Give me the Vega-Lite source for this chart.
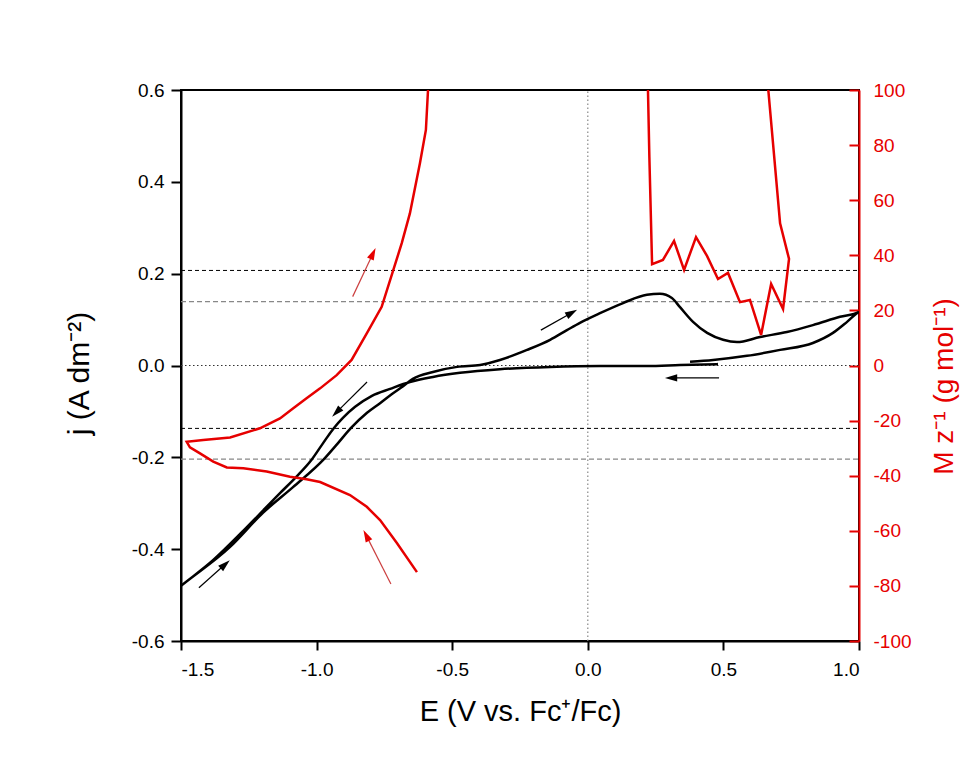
{
  "$schema": "https://vega.github.io/schema/vega-lite/v6.json",
  "autosize": {"type": "none"},
  "width": 678,
  "height": 551,
  "padding": {"left": 181, "top": 90, "right": 121, "bottom": 121},
  "background": "white",
  "config": {
    "view": {"stroke": "black", "strokeWidth": 2},
    "font": "Liberation Sans",
    "locale": {"number": {"decimal": ".", "thousands": ",", "grouping": [3], "currency": ["$", ""], "minus": "-"}},
    "axis": {"grid": false, "labelFont": "Liberation Sans", "titleFont": "Liberation Sans", "titleFontWeight": "normal", "labelFontSize": 19, "titleFontSize": 28}
  },
  "datasets": {
    "cv": [
      {"i": 1, "E": 0.480, "j": 0.003}, {"i": 2, "E": 0.340, "j": 0.001}, {"i": 3, "E": 0.218, "j": -0.001},
      {"i": 4, "E": 0.045, "j": -0.001}, {"i": 5, "E": -0.139, "j": -0.003}, {"i": 6, "E": -0.324, "j": -0.008},
      {"i": 7, "E": -0.471, "j": -0.016}, {"i": 8, "E": -0.571, "j": -0.025}, {"i": 9, "E": -0.656, "j": -0.036},
      {"i": 10, "E": -0.729, "j": -0.051}, {"i": 11, "E": -0.796, "j": -0.066}, {"i": 12, "E": -0.858, "j": -0.090},
      {"i": 13, "E": -0.903, "j": -0.114}, {"i": 14, "E": -0.936, "j": -0.136}, {"i": 15, "E": -0.976, "j": -0.169},
      {"i": 16, "E": -1.017, "j": -0.204}, {"i": 17, "E": -1.076, "j": -0.243}, {"i": 18, "E": -1.135, "j": -0.278},
      {"i": 19, "E": -1.257, "j": -0.352}, {"i": 20, "E": -1.382, "j": -0.424}, {"i": 21, "E": -1.500, "j": -0.480},
      {"i": 22, "E": -1.319, "j": -0.395}, {"i": 23, "E": -1.198, "j": -0.321}, {"i": 24, "E": -1.087, "j": -0.265},
      {"i": 25, "E": -0.973, "j": -0.204}, {"i": 26, "E": -0.921, "j": -0.169}, {"i": 27, "E": -0.873, "j": -0.136},
      {"i": 28, "E": -0.814, "j": -0.103}, {"i": 29, "E": -0.766, "j": -0.082}, {"i": 30, "E": -0.722, "j": -0.062},
      {"i": 31, "E": -0.681, "j": -0.045}, {"i": 32, "E": -0.645, "j": -0.029}, {"i": 33, "E": -0.571, "j": -0.014},
      {"i": 34, "E": -0.482, "j": -0.003}, {"i": 35, "E": -0.397, "j": 0.001}, {"i": 36, "E": -0.324, "j": 0.012},
      {"i": 37, "E": -0.224, "j": 0.034}, {"i": 38, "E": -0.139, "j": 0.056}, {"i": 39, "E": -0.077, "j": 0.077},
      {"i": 40, "E": -0.029, "j": 0.093}, {"i": 41, "E": 0.045, "j": 0.114}, {"i": 42, "E": 0.130, "j": 0.136},
      {"i": 43, "E": 0.218, "j": 0.154}, {"i": 44, "E": 0.266, "j": 0.156}, {"i": 45, "E": 0.310, "j": 0.147},
      {"i": 46, "E": 0.340, "j": 0.127}, {"i": 47, "E": 0.388, "j": 0.095}, {"i": 48, "E": 0.440, "j": 0.071},
      {"i": 49, "E": 0.499, "j": 0.056}, {"i": 50, "E": 0.550, "j": 0.051}, {"i": 51, "E": 0.635, "j": 0.062},
      {"i": 52, "E": 0.734, "j": 0.073}, {"i": 53, "E": 0.830, "j": 0.088}, {"i": 54, "E": 0.930, "j": 0.106},
      {"i": 55, "E": 1.000, "j": 0.117}, {"i": 56, "E": 0.956, "j": 0.095}, {"i": 57, "E": 0.904, "j": 0.071},
      {"i": 58, "E": 0.830, "j": 0.049}, {"i": 59, "E": 0.709, "j": 0.034}, {"i": 60, "E": 0.587, "j": 0.021},
      {"i": 61, "E": 0.462, "j": 0.012}, {"i": 62, "E": 0.377, "j": 0.008}
    ],
    "mass": [
      {"seg": "A", "i": 1, "E": -0.630, "M": -75.0}, {"seg": "A", "i": 2, "E": -0.704, "M": -64.4},
      {"seg": "A", "i": 3, "E": -0.766, "M": -56.1}, {"seg": "A", "i": 4, "E": -0.815, "M": -51.3},
      {"seg": "A", "i": 5, "E": -0.877, "M": -47.0}, {"seg": "A", "i": 6, "E": -0.987, "M": -42.3},
      {"seg": "A", "i": 7, "E": -1.037, "M": -41.3}, {"seg": "A", "i": 8, "E": -1.098, "M": -40.4},
      {"seg": "A", "i": 9, "E": -1.184, "M": -38.5}, {"seg": "A", "i": 10, "E": -1.270, "M": -37.3},
      {"seg": "A", "i": 11, "E": -1.331, "M": -37.0}, {"seg": "A", "i": 12, "E": -1.381, "M": -34.9},
      {"seg": "A", "i": 13, "E": -1.430, "M": -31.9}, {"seg": "A", "i": 14, "E": -1.467, "M": -29.7},
      {"seg": "A", "i": 15, "E": -1.479, "M": -27.7}, {"seg": "A", "i": 16, "E": -1.418, "M": -27.0},
      {"seg": "A", "i": 17, "E": -1.319, "M": -26.1}, {"seg": "A", "i": 18, "E": -1.209, "M": -22.8},
      {"seg": "A", "i": 19, "E": -1.135, "M": -19.2}, {"seg": "A", "i": 20, "E": -1.086, "M": -15.5},
      {"seg": "A", "i": 21, "E": -1.037, "M": -11.9}, {"seg": "A", "i": 22, "E": -0.987, "M": -8.3},
      {"seg": "A", "i": 23, "E": -0.926, "M": -3.5}, {"seg": "A", "i": 24, "E": -0.871, "M": 2.0},
      {"seg": "A", "i": 25, "E": -0.815, "M": 11.7}, {"seg": "A", "i": 26, "E": -0.760, "M": 21.3},
      {"seg": "A", "i": 27, "E": -0.717, "M": 34.7}, {"seg": "A", "i": 28, "E": -0.686, "M": 44.4},
      {"seg": "A", "i": 29, "E": -0.656, "M": 55.2}, {"seg": "A", "i": 30, "E": -0.619, "M": 73.4},
      {"seg": "A", "i": 31, "E": -0.597, "M": 85.5}, {"seg": "A", "i": 32, "E": -0.587, "M": 104.0},
      {"seg": "B", "i": 1, "E": 0.221, "M": 104.0}, {"seg": "B", "i": 2, "E": 0.227, "M": 75.8},
      {"seg": "B", "i": 3, "E": 0.237, "M": 36.8}, {"seg": "B", "i": 4, "E": 0.277, "M": 38.3},
      {"seg": "B", "i": 5, "E": 0.318, "M": 45.2}, {"seg": "B", "i": 6, "E": 0.355, "M": 34.7},
      {"seg": "B", "i": 7, "E": 0.399, "M": 46.6}, {"seg": "B", "i": 8, "E": 0.440, "M": 39.7},
      {"seg": "B", "i": 9, "E": 0.480, "M": 31.4}, {"seg": "B", "i": 10, "E": 0.517, "M": 33.6},
      {"seg": "B", "i": 11, "E": 0.561, "M": 23.0}, {"seg": "B", "i": 12, "E": 0.598, "M": 23.8},
      {"seg": "B", "i": 13, "E": 0.639, "M": 11.1}, {"seg": "B", "i": 14, "E": 0.676, "M": 29.6},
      {"seg": "B", "i": 15, "E": 0.720, "M": 20.5}, {"seg": "B", "i": 16, "E": 0.742, "M": 38.7},
      {"seg": "B", "i": 17, "E": 0.709, "M": 51.6}, {"seg": "B", "i": 18, "E": 0.662, "M": 104.0}
    ],
    "shafts": [
      {"c": "red", "E": -0.867, "j": 0.150, "E2": -0.792, "j2": 0.244},
      {"c": "red", "E": -0.726, "j": -0.476, "E2": -0.817, "j2": -0.370},
      {"c": "black", "E": -1.434, "j": -0.484, "E2": -1.337, "j2": -0.433},
      {"c": "black", "E": -0.814, "j": -0.036, "E2": -0.927, "j2": -0.102},
      {"c": "black", "E": -0.173, "j": 0.077, "E2": -0.059, "j2": 0.115},
      {"c": "black", "E": 0.484, "j": -0.027, "E2": 0.307, "j2": -0.027}
    ],
    "heads": [
      {"c": "red", "E": -0.792, "j": 0.244, "angle": 25},
      {"c": "red", "E": -0.817, "j": -0.370, "angle": -27},
      {"c": "black", "E": -1.337, "j": -0.433, "angle": 48},
      {"c": "black", "E": -0.927, "j": -0.102, "angle": 225},
      {"c": "black", "E": -0.059, "j": 0.115, "angle": 60},
      {"c": "black", "E": 0.307, "j": -0.027, "angle": 270}
    ]
  },
  "encoding": {
    "x": {"field": "E", "type": "quantitative", "scale": {"domain": [-1.5, 1.0], "nice": false, "zero": false},
      "axis": {"orient": "bottom", "values": [-1.5, -1.0, -0.5, 0.0, 0.5, 1.0], "format": ".1f",
        "domainColor": "#000000", "domainWidth": 2, "tickColor": "#000000", "tickWidth": 2, "tickSize": 9,
        "labelColor": "#000000", "labelPadding": 10, "title": "E (V vs. Fc⁺/Fc)", "titleColor": "#000000",
        "titleFontSize": 29, "titlePadding": 18}}
  },
  "layer": [
    {
      "encoding": {
        "y": {"field": "j", "type": "quantitative", "scale": {"domain": [-0.6, 0.6], "nice": false, "zero": false},
          "axis": {"orient": "left", "values": [-0.6, -0.4, -0.2, 0.0, 0.2, 0.4, 0.6], "format": ".1f",
            "domainColor": "#000000", "domainWidth": 2, "tickColor": "#000000", "tickWidth": 2, "tickSize": 10,
            "labelColor": "#000000", "labelPadding": 7, "title": "j (A dm⁻²)", "titleColor": "#000000",
            "titleFontSize": 30, "titlePadding": 37, "titleY": 283}}
      },
      "layer": [
        {
          "data": {"values": [{"E": -1.5, "E2": 1.0, "j": 0}]},
          "mark": {"type": "rule", "color": "#333333", "strokeWidth": 1, "strokeDash": [1.5, 2.5]},
          "encoding": {"x2": {"field": "E2"}}
        },
        {
          "data": {"values": [{"E": 0, "j": -0.6, "j2": 0.6}]},
          "mark": {"type": "rule", "color": "#888888", "strokeWidth": 1.2, "strokeDash": [1.5, 2.5]},
          "encoding": {"y2": {"field": "j2"}}
        },
        {
          "data": {"values": [{"E": -1.5, "E2": 1.0, "j": 0.207}, {"E": -1.5, "E2": 1.0, "j": -0.137}]},
          "mark": {"type": "rule", "color": "#000000", "strokeWidth": 1, "strokeDash": [4, 3]},
          "encoding": {"x2": {"field": "E2"}}
        },
        {
          "data": {"values": [{"E": -1.5, "E2": 1.0, "j": 0.139}, {"E": -1.5, "E2": 1.0, "j": -0.204}]},
          "mark": {"type": "rule", "color": "#888888", "strokeWidth": 1.2, "strokeDash": [5, 3]},
          "encoding": {"x2": {"field": "E2"}}
        },
        {
          "data": {"name": "cv"},
          "mark": {"type": "line", "color": "#000000", "strokeWidth": 2.5, "clip": true, "interpolate": "monotone"},
          "encoding": {"order": {"field": "i", "type": "quantitative"}}
        },
        {
          "data": {"name": "shafts"},
          "mark": {"type": "rule", "strokeWidth": 1.2},
          "encoding": {
            "x2": {"field": "E2"},
            "y2": {"field": "j2"},
            "color": {"field": "c", "type": "nominal", "scale": {"domain": ["black", "red"], "range": ["#000000", "#cc4040"]}, "legend": null}
          }
        },
        {
          "data": {"name": "heads"},
          "mark": {"type": "point", "filled": true, "opacity": 1, "shape": "M0,-1L0.6,1L-0.6,1Z", "size": 150},
          "encoding": {
            "angle": {"field": "angle", "type": "quantitative", "scale": null},
            "fill": {"field": "c", "type": "nominal", "scale": {"domain": ["black", "red"], "range": ["#000000", "#e60000"]}, "legend": null}
          }
        }
      ]
    },
    {
      "data": {"name": "mass"},
      "mark": {"type": "line", "color": "#e60000", "strokeWidth": 2.5, "clip": true},
      "encoding": {
        "y": {"field": "M", "type": "quantitative", "scale": {"domain": [-100, 100], "nice": false, "zero": false},
          "axis": {"orient": "right", "values": [-100, -80, -60, -40, -20, 0, 20, 40, 60, 80, 100], "format": "d",
            "domainColor": "#e60000", "domainWidth": 2, "tickColor": "#e60000", "tickWidth": 2, "tickSize": -10,
            "labelColor": "#e60000", "labelPadding": 24, "title": "M z⁻¹ (g mol⁻¹)", "titleColor": "#e60000",
            "titleAngle": 270, "titleBaseline": "top", "titlePadding": 19, "titleY": 296}},
        "detail": {"field": "seg", "type": "nominal"},
        "order": {"field": "i", "type": "quantitative"}
      }
    }
  ],
  "resolve": {"scale": {"y": "independent"}}
}
